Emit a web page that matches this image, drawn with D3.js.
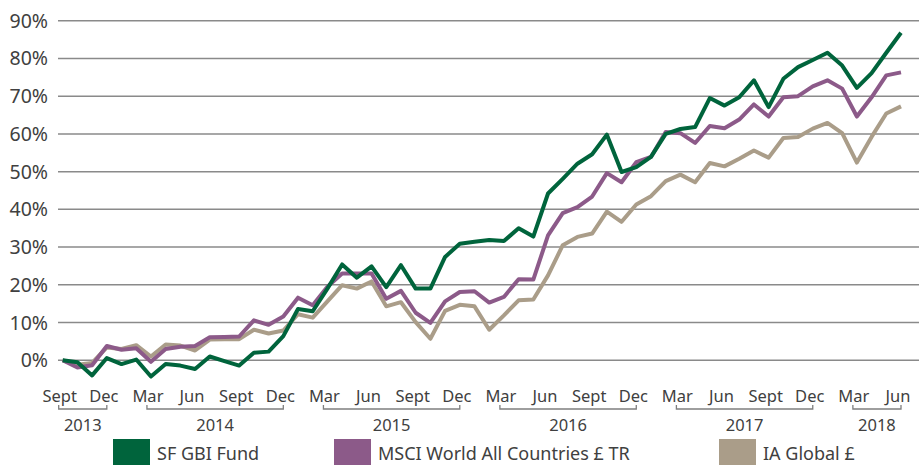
<!DOCTYPE html>
<html>
<head>
<meta charset="utf-8">
<script src="https://cdn.jsdelivr.net/npm/d3@7"></script>
<style>
    body { margin: 0; background: #fff; }
    svg text { font-family: "Noto Sans", "Open Sans", sans-serif; fill: #404040; }
</style>
</head>
<body>
<div id="chart"></div>
<script>
// Data

var months = [
    "2013-09", "2013-10", "2013-11", "2013-12",
    "2014-01", "2014-02", "2014-03", "2014-04", "2014-05", "2014-06",
    "2014-07", "2014-08", "2014-09", "2014-10", "2014-11", "2014-12",
    "2015-01", "2015-02", "2015-03", "2015-04", "2015-05", "2015-06",
    "2015-07", "2015-08", "2015-09", "2015-10", "2015-11", "2015-12",
    "2016-01", "2016-02", "2016-03", "2016-04", "2016-05", "2016-06",
    "2016-07", "2016-08", "2016-09", "2016-10", "2016-11", "2016-12",
    "2017-01", "2017-02", "2017-03", "2017-04", "2017-05", "2017-06",
    "2017-07", "2017-08", "2017-09", "2017-10", "2017-11", "2017-12",
    "2018-01", "2018-02", "2018-03", "2018-04", "2018-05", "2018-06"
];

// cumulative return, %
var sfGbiFund = [
    0, -0.5, -4.0, 0.6, -1.0, 0.2, -4.3, -1.0, -1.4, -2.3,
    1.0, -0.2, -1.4, 2.0, 2.3, 6.4, 13.6, 13.0, 19.0, 25.4,
    21.9, 24.9, 19.4, 25.2, 19.0, 19.0, 27.4, 30.9, 31.4, 31.9,
    31.6, 35.0, 32.8, 44.2, 48.1, 52.1, 54.6, 59.8, 49.9, 51.2,
    53.9, 60.0, 61.3, 61.8, 69.5, 67.5, 69.7, 74.2, 67.1, 74.6,
    77.7, 79.6, 81.5, 78.1, 72.2, 76.1, 81.5, 86.8
];
var msciWorld = [
    0, -1.9, -1.3, 3.8, 2.8, 3.2, -0.4, 3.0, 3.6, 3.8,
    6.1, 6.2, 6.3, 10.6, 9.4, 11.6, 16.6, 14.6, 19.5, 23.0,
    23.0, 23.0, 16.3, 18.4, 12.6, 9.9, 15.6, 18.1, 18.3, 15.3,
    16.8, 21.5, 21.4, 33.1, 39.0, 40.6, 43.4, 49.6, 47.2, 52.5,
    53.9, 60.5, 60.2, 57.6, 62.1, 61.5, 63.8, 67.8, 64.6, 69.7,
    70.0, 72.6, 74.2, 72.0, 64.6, 69.7, 75.5, 76.3
];
var iaGlobal = [
    0, -1.2, -0.7, 3.4, 3.0, 4.0, 1.0, 4.2, 3.9, 2.6,
    5.5, 5.6, 5.6, 8.1, 7.1, 7.9, 12.2, 11.3, 15.6, 19.9,
    19.0, 20.9, 14.3, 15.4, 10.1, 5.7, 13.1, 14.7, 14.3, 8.1,
    11.9, 15.9, 16.1, 22.5, 30.5, 32.7, 33.6, 39.4, 36.7, 41.3,
    43.5, 47.5, 49.2, 47.2, 52.3, 51.4, 53.4, 55.6, 53.7, 58.9,
    59.2, 61.4, 62.9, 60.2, 52.4, 59.2, 65.4, 67.3
];

var yTicks = [0, 10, 20, 30, 40, 50, 60, 70, 80, 90];
var quarterNames = { "03": "Mar", "06": "Jun", "09": "Sept", "12": "Dec" };
var years = ["2013", "2014", "2015", "2016", "2017", "2018"];

var seriesNames = ["SF GBI Fund", "MSCI World All Countries £ TR", "IA Global £"];
var seriesColors = ["#00643c", "#8c5a89", "#aa9d89"];

// Chart

var width = 922, height = 465;

var svg = d3.select("#chart").append("svg")
    .attr("width", width)
    .attr("height", height);

var x = d3.scalePoint().domain(months).range([62.7, 901]);
var y = d3.scaleLinear().domain([0, 90]).range([360.3, 20.7]);

// gridlines + y labels
var yAxis = svg.append("g").attr("class", "y-axis");
yAxis.selectAll("line")
    .data(yTicks)
  .enter().append("line")
    .attr("x1", 58)
    .attr("x2", 919)
    .attr("y1", function(d) { return y(d); })
    .attr("y2", function(d) { return y(d); })
    .attr("stroke", "#8a8a8a")
    .attr("stroke-width", 1.5);
yAxis.selectAll("text")
    .data(yTicks)
  .enter().append("text")
    .attr("x", 48)
    .attr("y", function(d) { return y(d); })
    .attr("dy", "0.36em")
    .attr("text-anchor", "end")
    .style("font-size", "19.5px")
    .text(function(d) { return d + "%"; });

// lines, tan under purple under green
var series = [
    { name: seriesNames[2], color: seriesColors[2], values: iaGlobal },
    { name: seriesNames[1], color: seriesColors[1], values: msciWorld },
    { name: seriesNames[0], color: seriesColors[0], values: sfGbiFund }
];

var line = d3.line()
    .x(function(d, i) { return x(months[i]); })
    .y(function(d) { return y(d); });

svg.append("g").selectAll("path")
    .data(series)
  .enter().append("path")
    .attr("d", function(s) { return line(s.values); })
    .attr("fill", "none")
    .attr("stroke", function(s) { return s.color; })
    .attr("stroke-width", 4)
    .attr("stroke-linejoin", "round");

// month labels every quarter
var quarterMonths = months.filter(function(m) { return quarterNames[m.slice(5)]; });
var labelX = function(m) { return x(m) - 3; };

svg.append("g").selectAll("text")
    .data(quarterMonths)
  .enter().append("text")
    .attr("x", labelX)
    .attr("y", 401.5)
    .attr("text-anchor", "middle")
    .style("font-size", "16.5px")
    .text(function(m) { return quarterNames[m.slice(5)]; });

// year brackets
var groups = years.map(function(yr) {
    var ms = quarterMonths.filter(function(m) { return m.slice(0, 4) === yr; });
    return { year: yr, x1: labelX(ms[0]) - 1, x2: labelX(ms[ms.length - 1]) + 3 };
});

var yearG = svg.append("g").selectAll("g")
    .data(groups)
  .enter().append("g");
yearG.append("path")
    .attr("d", function(g) {
        return "M" + g.x1 + ",405V409H" + g.x2 + "V405";
    })
    .attr("fill", "none")
    .attr("stroke", "#7f7f7f")
    .attr("stroke-width", 1.3);
yearG.append("text")
    .attr("x", function(g) { return (g.x1 + g.x2) / 2; })
    .attr("y", 431)
    .attr("text-anchor", "middle")
    .style("font-size", "16.5px")
    .text(function(g) { return g.year; });

// legend, squares run off the bottom edge like the original
var legendX = [113, 334, 719];
var legend = svg.append("g").selectAll("g")
    .data(seriesNames)
  .enter().append("g")
    .attr("transform", function(d, i) { return "translate(" + legendX[i] + ",439)"; });
legend.append("rect")
    .attr("width", 37)
    .attr("height", 37)
    .attr("fill", function(d, i) { return seriesColors[i]; });
legend.append("text")
    .attr("x", 44)
    .attr("y", 21)
    .style("font-size", "18px")
    .text(function(d) { return d; });
</script>
</body>
</html>
